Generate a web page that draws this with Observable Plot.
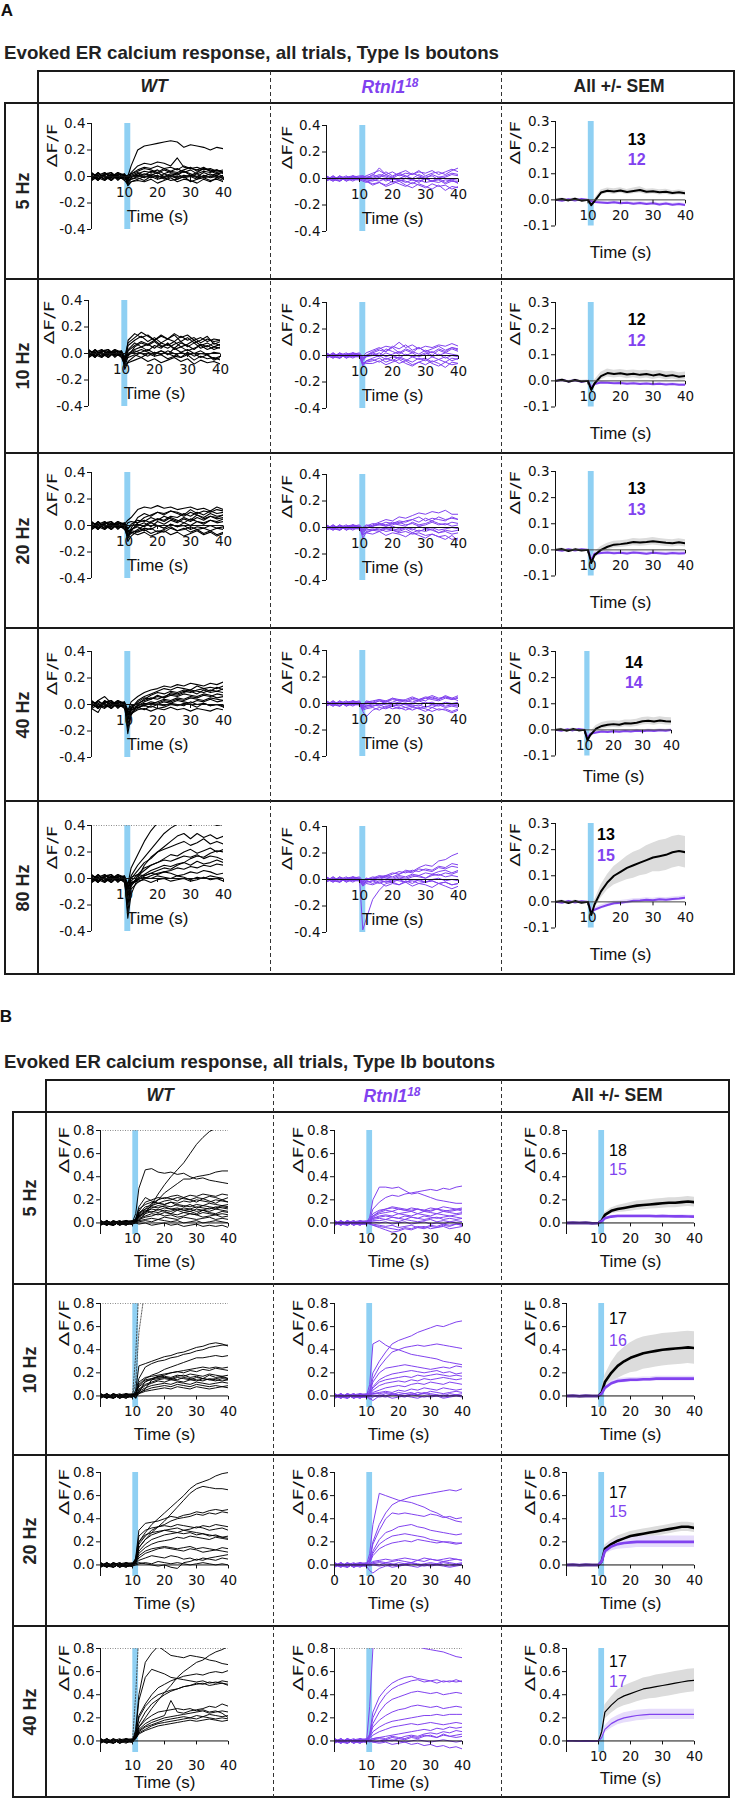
<!DOCTYPE html>
<html><head><meta charset="utf-8">
<script src="https://cdn.jsdelivr.net/npm/d3@7"></script>
<script src="https://cdn.jsdelivr.net/npm/@observablehq/plot@0.6"></script>
<style>
body{margin:0;background:#fff;}
#fig{position:relative;width:735px;height:1798px;overflow:hidden;background:#fff;font-family:"Liberation Sans",Arial,sans-serif;color:#111;}
</style></head><body><div id="fig"></div>
<script>
// ---------- time grid (s) shared by all series ----------
const T = [0,2,4,6,8,10,11,12,14,16,18,20,22,24,26,28,30,32,34,36,38,40];
const STIM = [10.1, 11.9];
const X_TICKS = [10,20,30,40];
const X_TICKS_0 = [0,10,20,30,40];
const A_Y_TICKS = [-0.4,-0.2,0,0.2,0.4];
const A_SEM_Y_TICKS = [-0.1,0,0.1,0.2,0.3];
const B_Y_TICKS = [0,0.2,0.4,0.6,0.8];
const A_FREQ = ["5 Hz","10 Hz","20 Hz","40 Hz","80 Hz"];
const B_FREQ = ["5 Hz","10 Hz","20 Hz","40 Hz"];
const A_N_WT = ["13","12","13","14","13"];
const A_N_RT = ["12","12","13","14","15"];
const B_N_WT = ["18","17","17","17"];
const B_N_RT = ["15","16","15","17"];

// ---------- Type Is individual trials, ΔF/F x 100 ----------
const A5_WT = [
[3,-2,1,-3,2,1,0,8,20,23,24,25,26,27,26,22,24,23,22,20,22,21],
[-2,3,-3,1,-1,-2,-2,3,8,10,9,11,10,8,14,7,6,5,7,4,5,3],
[1,-3,2,3,-2,0,-3,2,5,7,6,8,6,7,5,8,6,7,5,6,4,5],
[-3,1,3,-1,2,-1,-4,-1,2,4,3,5,2,4,6,3,5,2,4,3,5,2],
[2,0,-2,2,-3,2,-5,-2,0,2,1,3,0,2,1,4,2,0,3,1,2,0],
[0,-2,3,-2,1,-3,-6,-4,-2,0,-1,1,-2,0,2,-1,0,-2,1,-1,0,-1],
[-1,3,-1,0,3,1,-2,1,3,1,4,2,5,3,2,4,1,3,6,4,2,3],
[3,-1,-3,2,0,-1,-3,-2,-1,-3,0,-2,-1,-3,-2,0,-4,-2,-1,-3,-2,-4],
[-2,2,0,-3,1,2,-1,0,1,-1,2,0,-1,1,-2,0,1,-1,0,2,-1,1],
[1,-3,2,1,-2,0,1,2,4,6,5,3,6,4,3,5,7,4,6,5,3,4],
[-3,0,1,3,-1,1,-7,-4,-3,-4,-2,-5,-3,-1,-4,-2,-3,-5,-2,-4,-1,-3],
[2,1,-2,-1,3,-2,-2,0,2,0,1,-1,2,0,-1,1,0,2,-1,0,1,-2]];
const A5_RT = [
[2,-1,1,-2,1,0,1,2,4,6,3,5,2,4,3,6,2,4,5,3,6,8],
[-1,2,-2,1,-1,1,-1,-2,-4,-3,-5,-2,-4,-6,-3,-5,-7,-4,-6,-5,-8,-6],
[1,-2,2,0,-2,1,2,1,2,8,3,1,4,2,0,3,1,2,-1,1,3,2],
[-2,1,0,2,-1,-1,-2,-3,-1,-2,0,-3,-1,-2,-4,-1,-3,-2,0,-3,-1,-4],
[1,0,-2,1,2,0,1,0,3,1,5,2,4,6,3,5,4,6,3,5,7,5],
[0,-2,1,-1,2,-1,0,-1,-2,0,-1,1,-2,0,-1,-3,0,-2,-1,-4,-2,-3],
[-1,2,-1,0,1,2,2,1,0,2,1,-1,0,2,-1,1,0,-2,1,0,-1,0],
[2,-1,-2,1,0,-1,-1,-2,-5,-3,-6,-4,-2,-5,-7,-4,-6,-8,-5,-9,-6,-7],
[-2,1,0,-1,2,1,1,0,1,3,2,0,3,1,4,2,0,3,1,2,4,3],
[1,-1,2,-2,0,-1,0,-1,-1,1,-2,0,-1,-3,-1,-2,0,-2,-3,-1,-2,-2]];
const A10_WT = [
[3,-2,1,-3,2,1,-8,10,15,12,14,10,13,11,15,12,14,10,12,9,11,10],
[-2,3,-3,1,-1,-2,-5,6,10,13,9,12,8,11,14,9,12,8,10,13,7,9],
[1,-3,2,3,-2,0,-10,-2,5,8,6,9,5,7,4,8,6,3,7,5,8,6],
[-3,1,3,-1,2,-1,-6,0,3,5,2,6,4,8,3,5,2,4,6,3,5,4],
[2,0,-2,2,-3,2,-12,-6,-2,1,3,0,2,-1,4,1,3,0,2,-1,1,0],
[0,-2,3,-2,1,-3,-9,-7,-5,-3,-6,-4,-7,-5,-3,-6,-4,-8,-5,-7,-6,-8],
[-1,3,-1,0,3,1,-4,-1,2,0,-2,1,-1,2,0,-3,1,-2,0,-1,-4,-2],
[3,-1,-3,2,0,-1,-7,2,6,9,7,4,8,6,9,5,7,10,6,8,5,7],
[-2,2,0,-3,1,2,-3,-1,1,3,1,-1,2,0,-2,1,-1,0,-3,-1,-5,-3],
[1,-3,2,1,-2,0,-5,3,8,5,7,10,6,4,7,9,5,8,4,6,3,5],
[-3,0,1,3,-1,1,-6,-3,-1,-3,0,-2,-1,-4,-2,-3,-1,-5,-2,-4,-3,-5],
[2,1,-2,-1,3,-2,-2,8,12,16,13,10,14,11,9,13,10,12,8,11,9,10]];
const A10_RT = [
[2,-1,1,-2,1,0,-3,0,3,5,7,6,10,6,8,5,7,6,8,7,9,7],
[-1,2,-2,1,-1,1,-6,-5,-4,-2,-5,-3,-6,-4,-7,-5,-3,-6,-8,-5,-7,-6],
[1,-2,2,0,-2,1,-2,0,2,4,3,6,2,5,3,1,4,2,5,3,6,4],
[-2,1,0,2,-1,-1,-8,-4,-2,0,-3,-1,-2,-4,-1,-3,-2,-5,-3,-1,-4,-2],
[1,0,-2,1,2,0,-4,-1,0,2,-1,1,3,0,2,-1,1,3,0,2,1,0],
[0,-2,1,-1,2,-1,-5,-6,-6,-4,-7,-5,-3,-6,-8,-5,-7,-4,-6,-9,-5,-6],
[-1,2,-1,0,1,2,-1,2,4,6,3,7,5,8,4,6,3,5,7,4,6,5],
[2,-1,-2,1,0,-1,-3,-1,1,-1,2,0,-2,1,-1,0,2,-1,1,-2,0,-1],
[-2,1,0,-1,2,1,-7,-4,-3,-5,-2,-4,-1,-3,-5,-2,-4,-1,-3,-5,-2,-3],
[1,-1,2,-2,0,-1,-2,0,2,0,5,3,1,4,2,6,3,0,4,2,5,3]];
const A20_WT = [
[3,-2,1,-3,2,1,4,6,12,14,13,15,13,14,12,13,14,12,13,11,14,12],
[-2,3,-3,1,-1,-2,-10,-4,2,6,8,10,9,11,10,8,12,9,11,10,12,11],
[1,-3,2,3,-2,0,-8,-6,-3,0,3,5,4,7,6,9,7,10,8,11,9,10],
[-3,1,3,-1,2,-1,-5,-3,0,2,-1,3,1,4,2,5,3,6,4,7,5,6],
[2,0,-2,2,-3,2,-12,-8,-4,-2,-3,0,-2,1,-1,2,0,3,1,4,2,3],
[0,-2,3,-2,1,-3,-6,-4,-5,-3,-6,-4,-5,-2,-4,-3,-1,-3,-2,0,-2,-1],
[-1,3,-1,0,3,1,-3,1,4,3,6,4,7,5,3,6,4,8,5,7,6,8],
[3,-1,-3,2,0,-1,-7,-5,-7,-5,-8,-6,-4,-7,-5,-8,-6,-4,-7,-5,-8,-6],
[-2,2,0,-3,1,2,-2,0,1,-1,2,0,-2,1,-1,0,-3,-1,-2,-4,-2,-3],
[1,-3,2,1,-2,0,-9,-2,6,9,7,10,8,11,9,7,10,8,6,9,7,8],
[-3,0,1,3,-1,1,-4,-3,-1,-4,-2,-5,-3,-1,-4,-2,-5,-3,-6,-4,-7,-5],
[2,1,-2,-1,3,-2,2,3,2,4,2,5,3,6,4,2,5,3,2,4,3,5]];
const A20_RT = [
[2,-1,1,-2,1,0,-3,-1,2,4,6,5,8,7,9,11,10,12,11,13,10,10],
[-1,2,-2,1,-1,1,-6,-3,-2,-1,-3,-2,-4,-3,-5,-4,-6,-5,-7,-6,-9,-8],
[1,-2,2,0,-2,1,-2,0,1,3,2,4,3,5,6,4,7,5,8,6,7,6],
[-2,1,0,2,-1,-1,-4,-2,-1,-2,0,-1,-2,0,-1,-3,-1,-2,-4,-2,-3,-2],
[1,0,-2,1,2,0,-2,0,1,2,1,3,2,1,4,2,3,5,3,2,4,3],
[0,-2,1,-1,2,-1,-5,-4,-5,-3,-6,-4,-5,-7,-4,-6,-8,-5,-7,-9,-6,-10],
[-1,2,-1,0,1,2,-1,1,3,2,4,3,5,4,6,8,5,7,6,5,8,6],
[2,-1,-2,1,0,-1,-3,-1,-2,0,-1,1,-1,0,-2,1,-1,0,-2,-1,0,-1],
[-2,1,0,-1,2,1,-8,-4,-2,-3,-1,-2,-3,-1,-4,-2,-3,-1,-4,-3,-5,-4],
[1,-1,2,-2,0,-1,0,2,1,3,1,2,4,2,3,1,2,4,2,3,1,2]];
const A40_WT = [
[3,-2,1,-3,2,1,-5,2,6,9,11,12,14,13,15,14,16,15,14,16,15,17],
[-2,3,6,1,-1,-2,-10,-3,3,6,8,10,12,11,13,12,11,14,12,13,12,14],
[1,-3,2,3,-2,0,-22,-8,0,4,7,9,8,10,9,11,10,8,11,9,10,9],
[-3,-6,3,-1,2,-1,-12,-5,-1,2,4,6,5,7,6,8,7,6,8,7,5,6],
[2,0,-2,2,-3,2,-15,-6,-3,0,2,1,3,2,4,3,5,4,3,5,4,3],
[0,-2,3,-2,1,-3,-8,-4,-2,-4,-1,-3,-2,0,-1,1,0,-2,1,-1,0,-2],
[-1,3,-1,0,3,1,-6,-2,1,3,5,4,6,8,7,9,11,10,9,11,10,12],
[3,-1,-3,2,0,-1,-18,-7,-4,-3,-5,-3,-4,-2,-4,-3,-5,-3,-4,-5,-3,-4],
[-2,2,0,-3,1,2,-4,-1,0,-1,1,0,2,1,3,2,1,3,2,4,2,3],
[1,-3,2,1,-2,0,-11,-3,2,5,4,7,5,9,8,10,9,11,12,10,13,11],
[-3,0,1,3,-1,1,-7,-4,-2,-1,-2,0,-1,1,0,-1,2,0,1,-1,0,-1],
[2,1,-2,-1,3,-2,-9,-3,-1,1,0,2,4,3,5,4,6,5,7,6,8,7]];
const A40_RT = [
[2,-1,1,-2,1,0,-2,1,2,3,1,4,2,3,5,3,4,6,4,5,3,5],
[-1,2,-2,1,-1,1,-6,-10,-5,-3,-4,-2,-4,-3,-5,-3,-4,-6,-4,-5,-7,-5],
[1,-2,2,0,-2,1,-3,-2,0,2,1,3,2,1,3,2,4,3,2,4,3,4],
[-2,1,0,2,-1,-1,-4,-3,-2,-1,-3,-2,-1,-3,-2,-4,-2,-3,-1,-3,-2,-3],
[1,0,-2,1,2,0,-1,1,0,2,0,1,3,2,1,3,2,5,3,6,4,6],
[0,-2,1,-1,2,-1,-5,-4,-3,-5,-2,-4,-3,-5,-3,-4,-6,-3,-5,-4,-6,-4],
[-1,2,-1,0,1,2,-2,0,1,-1,2,0,1,-1,0,2,0,1,-1,1,0,1],
[2,-1,-2,1,0,-1,-3,-2,-1,-2,0,-1,-2,0,-1,-2,1,-1,0,-2,-1,-1],
[-2,1,0,-1,2,1,-2,2,1,3,2,4,3,2,4,3,5,4,3,5,4,2],
[1,-1,2,-2,0,-1,-3,-1,-2,0,-1,-2,0,-1,-2,-1,-3,-1,-2,0,-1,-2]];
const A80_WT = [
[3,-2,1,-3,2,1,-5,8,18,28,36,42,45,44,46,45,47,44,46,45,44,46],
[-2,3,-3,1,-1,-2,-8,2,10,16,22,28,34,38,41,42,40,43,41,42,40,41],
[1,-3,2,3,-2,0,-30,-12,0,10,16,20,24,28,32,34,30,34,31,33,30,32],
[-3,1,3,-1,2,-1,-10,0,6,12,15,20,22,24,26,28,25,27,30,26,28,26],
[2,0,-2,2,-3,2,-20,-6,2,6,10,12,15,18,17,20,22,19,21,23,20,22],
[0,-2,3,-2,1,-3,-6,-2,3,8,10,12,14,13,15,17,16,18,15,17,16,14],
[-1,3,-1,0,3,1,-14,-4,0,3,6,8,10,9,11,12,10,13,11,12,14,12],
[3,-1,-3,2,0,-1,-25,-8,-3,0,2,4,5,6,8,7,9,8,10,9,11,10],
[-2,2,0,-3,1,2,-4,1,3,2,4,3,5,4,2,3,5,4,6,5,3,4],
[1,-3,2,1,-2,0,-12,-3,-1,1,0,2,1,0,2,1,-1,1,0,2,1,0],
[-3,0,1,3,-1,1,-7,-3,-2,-1,-3,-1,0,-2,-1,0,-2,-1,1,-1,0,-2],
[2,1,-2,-1,3,-2,-18,-5,-1,2,4,6,8,7,10,12,15,17,16,19,21,20]];
const A80_RT = [
[2,-1,1,-2,1,0,-2,1,0,2,3,5,4,7,6,9,11,10,14,15,18,20],
[-1,2,-2,1,-1,1,-38,-30,-15,-8,-3,-2,-4,-1,-3,0,-2,-1,-3,-2,-4,-3],
[1,-2,2,0,-2,1,-3,-1,1,3,2,4,6,5,7,6,8,7,10,9,12,11],
[-2,1,0,2,-1,-1,-4,-2,-1,0,-2,-1,1,0,2,3,1,4,3,5,4,6],
[1,0,-2,1,2,0,-2,0,2,1,3,2,4,6,5,8,7,6,9,8,10,9],
[0,-2,1,-1,2,-1,-5,-3,-4,-2,-5,-3,-4,-2,-5,-3,-4,-6,-3,-5,-7,-5],
[-1,2,-1,0,1,2,-1,1,0,2,1,0,2,1,3,2,1,3,4,2,3,2],
[2,-1,-2,1,0,-1,-3,-2,-1,-3,-1,-2,0,-2,-1,-3,-2,-1,-3,-2,-4,-3],
[-2,1,0,-1,2,1,-2,0,1,0,2,1,3,2,4,3,5,4,6,7,5,7],
[1,-1,2,-2,0,-1,-4,-1,-3,-1,-2,0,-1,-2,0,-1,-2,0,1,-1,0,-1]];

// ---------- Type Is means and SEM, ΔF/F x 100 ----------
const A5_WT_M = [0,0.3,-0.2,0.4,-0.3,0,-2,-0.5,2.8,3.5,3.2,3.6,3,3.4,3.8,3.1,3.3,2.9,3.1,2.6,2.9,2.5];
const A5_WT_S = [0.4,0.4,0.4,0.4,0.4,0.4,0.6,0.8,1,1,1.1,1,1,1.1,1.2,1,1,1,1,0.9,0.9,0.9];
const A5_RT_M = [0,-0.3,0.2,-0.2,0.3,0,-0.5,-0.8,-1,-1.2,-0.9,-1.3,-1.1,-1.5,-1.2,-1.6,-1.3,-1.8,-1.4,-1.9,-1.6,-2];
const A5_RT_S = [0.3,0.3,0.3,0.3,0.3,0.3,0.4,0.5,0.6,0.6,0.6,0.6,0.6,0.6,0.6,0.6,0.6,0.6,0.6,0.6,0.6,0.6];
const A10_WT_M = [0,0.4,-0.3,0.3,-0.2,0,-3.5,-1,1.8,3,2.6,2.9,2.4,2.7,2.3,2.6,2.1,2.5,1.9,2.2,1.6,1.9];
const A10_WT_S = [0.4,0.4,0.4,0.4,0.4,0.4,1,1.2,1.5,1.5,1.5,1.5,1.6,1.5,1.6,1.5,1.6,1.5,1.6,1.5,1.5,1.5];
const A10_RT_M = [0,0.3,-0.2,0.2,-0.3,0,-2.5,-1.2,-0.6,-0.7,-0.9,-0.8,-1.1,-0.9,-1.2,-1,-1.3,-1.1,-1.4,-1.2,-1.5,-1.5];
const A10_RT_S = [0.3,0.3,0.3,0.3,0.3,0.3,0.5,0.5,0.5,0.5,0.5,0.5,0.5,0.5,0.5,0.5,0.5,0.5,0.5,0.5,0.5,0.5];
const A20_WT_M = [0,0.3,-0.4,0.2,-0.2,0,-5,-2,0,1.2,2,2.2,2.5,3,2.8,3,3.3,3,2.7,2.5,2.9,2.5];
const A20_WT_S = [0.4,0.4,0.4,0.4,0.4,0.4,1.2,1.2,1.3,1.3,1.3,1.3,1.3,1.4,1.4,1.4,1.4,1.4,1.4,1.4,1.4,1.4];
const A20_RT_M = [0,-0.3,0.2,-0.2,0.2,0,-4,-1.5,-1.2,-1,-1.3,-1.1,-1.4,-1,-1.2,-1.5,-1.1,-1.3,-1.5,-1.2,-1.4,-1.3];
const A20_RT_S = [0.3,0.3,0.3,0.3,0.3,0.3,0.7,0.7,0.7,0.7,0.7,0.7,0.7,0.7,0.7,0.7,0.7,0.7,0.7,0.7,0.7,0.7];
const A40_WT_M = [0,0.2,-0.3,0.3,-0.2,0,-4,-2,0.5,1.5,2,2.2,2,2.5,2.4,2.7,3.3,3.5,3.2,3.6,3.3,3.2];
const A40_WT_S = [0.4,0.4,0.4,0.4,0.4,0.4,1,1.2,1.2,1.3,1.3,1.3,1.3,1.3,1.4,1.4,1.4,1.4,1.4,1.4,1.4,1.4];
const A40_RT_M = [0,-0.3,0.2,-0.2,0.3,0,-3,-1.5,-1,-0.6,-0.8,-0.5,-0.7,-0.4,-0.6,-0.3,-0.5,-0.2,-0.4,-0.1,-0.3,0];
const A40_RT_S = [0.3,0.3,0.3,0.3,0.3,0.3,0.5,0.5,0.5,0.5,0.5,0.5,0.5,0.5,0.5,0.5,0.5,0.5,0.5,0.5,0.5,0.5];
const A80_WT_M = [0,0.3,-0.4,0.3,-0.3,0,-5,-1,4,7.5,10,11.5,13,14,15,16,17,17.5,18,19,19.5,19];
const A80_WT_S = [0.4,0.4,0.4,0.4,0.4,0.4,1,1.5,2.5,3,3.5,4,4.5,5,5,5.5,5.5,6,6,6,6,6];
const A80_RT_M = [0,-0.3,0.3,-0.2,0.2,0,-4,-3,-2,-1.2,-0.5,-0.3,0,0.4,0.5,0.8,0.6,1,0.8,1.1,1.3,1.6];
const A80_RT_S = [0.3,0.3,0.3,0.3,0.3,0.3,0.8,0.8,0.8,0.8,0.8,0.8,0.8,0.8,0.8,0.8,0.8,0.8,0.8,0.8,0.8,0.8];

// ---------- Type Ib individual trials, ΔF/F x 100 ----------
const B5_WT = [
[2,-1,1,-2,1,0,1,2,8,16,25,33,40,46,52,60,68,74,79,82,85,88],
[-1,2,-2,1,-1,1,8,30,46,47,44,43,44,42,43,40,38,39,37,36,35,34],
[1,-2,2,0,-2,1,2,5,10,15,20,26,30,34,38,38,40,41,42,44,45,45],
[-2,1,0,2,-1,-1,3,10,18,20,22,21,23,24,22,24,23,25,24,23,25,24],
[1,0,-2,1,2,0,4,12,16,18,17,19,20,22,21,20,22,21,23,22,20,22],
[0,-2,1,-1,2,-1,2,8,14,15,17,16,18,17,19,18,20,19,18,20,19,18],
[-1,2,-1,0,1,2,3,9,12,14,13,15,14,16,15,14,16,15,17,16,15,16],
[2,-1,-2,1,0,-1,2,6,10,12,11,13,12,11,13,12,14,13,12,14,13,12],
[-2,1,0,-1,2,1,1,5,8,10,9,11,10,12,11,10,12,11,10,12,11,10],
[1,-1,2,-2,0,-1,2,7,11,9,12,10,8,11,9,10,8,11,9,8,10,9],
[2,-1,1,-2,1,0,1,4,6,8,7,9,8,7,9,8,7,9,8,7,8,7],
[-1,2,-2,1,-1,1,1,3,5,6,8,6,7,5,6,8,7,5,6,7,5,6],
[1,-2,2,0,-2,1,2,6,9,13,15,14,12,13,11,12,10,11,13,12,14,13],
[-2,1,0,2,-1,-1,1,2,3,4,3,5,4,3,5,4,3,4,5,3,4,3],
[1,0,-2,1,2,0,0,1,2,1,3,2,1,2,0,1,2,0,1,2,1,0],
[0,-2,1,-1,2,-1,0,-1,0,-2,-1,0,-2,-1,-3,-2,-1,-3,-2,-3,-2,-4],
[-1,2,-1,0,1,2,3,14,22,19,17,16,18,15,14,16,13,15,14,13,15,14],
[2,-1,-2,1,0,-1,2,8,12,17,20,22,21,19,22,20,18,21,19,17,20,18]];
const B5_RT = [
[2,-1,1,-2,1,0,5,20,31,31,30,31,28,25,26,24,22,20,19,18,17,17],
[-1,2,-2,1,-1,1,3,12,18,22,24,23,25,26,27,28,29,28,30,29,31,32],
[1,-2,2,0,-2,1,2,8,11,12,13,12,11,13,12,11,13,12,14,13,12,13],
[-2,1,0,2,-1,-1,2,6,9,11,10,12,11,10,12,11,10,12,11,10,11,12],
[1,0,-2,1,2,0,1,5,8,9,10,8,9,10,8,10,9,8,10,9,8,9],
[0,-2,1,-1,2,-1,1,4,6,7,6,8,7,6,8,7,6,8,7,6,7,8],
[-1,2,-1,0,1,2,2,4,5,6,5,4,6,5,4,6,5,4,5,6,5,4],
[2,-1,-2,1,0,-1,1,3,4,3,5,4,3,5,4,3,4,5,3,4,3,4],
[-2,1,0,-1,2,1,0,2,2,3,2,1,3,2,1,2,3,1,2,1,2,1],
[1,-1,2,-2,0,-1,0,1,0,1,-1,0,1,-1,0,1,-1,0,-1,1,0,-1],
[2,-1,1,-2,1,0,-1,-2,-3,-4,-5,-6,-4,-5,-3,-4,-2,-3,-1,-2,-1,-2],
[-1,2,-2,1,-1,1,-1,-1,-2,-3,-2,-4,-3,-2,-4,-3,-5,-4,-3,-5,-4,-3],
[1,-2,2,0,-2,1,2,6,10,12,14,13,12,11,12,10,11,12,10,11,12,10],
[-2,1,0,2,-1,-1,0,-2,-4,-6,-8,-7,-5,-6,-4,-5,-3,-4,-2,-3,-1,-2]];
const B10_WT_STEEP = [
[0,1,-1,0,1,0,35,95,95,95,95,95,95,95,95,95,95,95,95,95,95,95],
[1,0,-1,1,0,1,12,55,95,95,95,95,95,95,95,95,95,95,95,95,95,95]];
const B10_WT = [
[2,-1,1,-2,1,0,5,26,28,30,32,34,35,37,38,40,42,43,45,46,45,43],
[-1,2,-2,1,-1,1,3,15,25,28,30,31,33,34,36,37,39,40,42,43,44,44],
[1,-2,2,0,-2,1,2,10,15,18,20,23,25,27,29,31,33,33,34,35,34,35],
[-2,1,0,2,-1,-1,2,8,12,15,17,18,20,21,22,23,24,25,24,25,24,25],
[1,0,-2,1,2,0,1,12,16,17,18,19,20,21,20,22,21,23,22,24,23,22],
[0,-2,1,-1,2,-1,2,9,14,15,16,17,16,18,17,19,18,17,19,18,17,18],
[-1,2,-1,0,1,2,-2,6,10,12,14,15,14,16,15,14,16,15,14,15,16,15],
[2,-1,-2,1,0,-1,1,5,9,11,13,12,14,13,12,14,13,15,14,13,15,14],
[-2,1,0,-1,2,1,-2,4,7,9,10,11,10,12,11,10,12,11,10,11,12,11],
[1,-1,2,-2,0,-1,1,3,5,7,8,9,8,10,9,8,10,9,8,9,8,9],
[2,-1,1,-2,1,0,-1,2,4,5,6,7,6,8,7,6,8,7,6,7,8,7],
[-1,2,-2,1,-1,1,1,3,13,14,15,16,15,14,16,15,14,13,15,14,13,14],
[1,-2,2,0,-2,1,0,2,6,14,17,16,15,17,18,16,17,15,18,16,17,15]];
const B10_RT = [
[2,-1,1,-2,1,0,10,45,48,44,41,40,38,36,35,34,33,32,30,29,28,27],
[-1,2,-2,1,-1,1,5,20,30,38,45,48,50,52,55,57,59,61,60,62,64,65],
[1,-2,2,0,-2,1,3,15,25,32,38,40,42,43,44,43,44,45,44,43,42,41],
[-2,1,0,2,-1,-1,3,12,20,24,25,26,27,26,25,24,23,24,25,24,26,25],
[1,0,-2,1,2,0,2,8,14,17,19,20,21,22,21,20,21,22,20,21,19,20],
[0,-2,1,-1,2,-1,2,7,12,14,15,16,17,16,18,17,18,19,18,17,18,17],
[-1,2,-1,0,1,2,1,5,9,11,12,13,12,14,13,15,14,15,16,15,14,15],
[2,-1,-2,1,0,-1,1,3,5,7,8,9,8,10,11,10,12,11,10,12,11,10],
[-2,1,0,-1,2,1,0,2,3,4,3,5,4,6,5,7,6,5,7,6,5,6],
[1,-1,2,-2,0,-1,-2,-4,0,2,1,3,2,1,3,2,4,3,2,3,4,3],
[2,-1,1,-2,1,0,0,1,0,-1,1,0,-1,1,0,-1,0,1,-1,0,1,0],
[-1,2,-2,1,-1,1,-1,0,-1,0,-2,-1,0,-1,-2,0,-1,0,-2,-1,0,-1],
[1,-2,2,0,-2,1,-3,-1,1,0,2,1,0,2,1,3,2,1,0,2,1,2],
[-2,1,0,2,-1,-1,1,2,2,3,2,1,2,3,1,2,1,0,1,0,1,0]];
const B20_WT = [
[2,-1,1,-2,1,0,5,20,28,35,40,45,50,55,60,66,70,72,74,77,79,80],
[-1,2,-2,1,-1,1,4,15,22,28,33,38,44,50,56,62,66,68,67,66,66,65],
[1,-2,2,0,-2,1,6,30,36,37,38,40,42,41,43,44,46,45,47,48,47,48],
[-2,1,0,2,-1,-1,3,18,25,30,33,35,38,40,41,42,44,43,45,44,46,45],
[1,0,-2,1,2,0,5,25,30,32,33,34,33,35,34,33,32,34,33,35,34,33],
[0,-2,1,-1,2,-1,3,15,22,26,28,30,31,32,30,31,33,32,30,31,32,30],
[-1,2,-1,0,1,2,4,20,26,28,29,30,29,28,27,28,26,27,25,26,24,25],
[2,-1,-2,1,0,-1,2,12,18,22,24,26,27,28,30,29,28,27,26,25,24,23],
[-2,1,0,-1,2,1,3,10,15,18,20,21,22,24,23,25,24,23,22,24,23,22],
[1,-1,2,-2,0,-1,2,8,12,14,15,16,15,14,15,16,14,15,14,13,15,14],
[2,-1,1,-2,1,0,2,6,10,12,14,15,14,13,12,14,13,11,12,13,12,11],
[-1,2,-2,1,-1,1,1,4,6,8,7,6,8,7,5,6,4,6,5,4,6,5],
[1,-2,2,0,-2,1,1,2,1,0,-1,0,-2,-3,2,3,5,4,6,7,8,9],
[-2,1,0,2,-1,-1,0,1,2,1,3,2,1,2,1,0,1,2,1,0,1,0]];
const B20_RT = [
[2,-1,1,-2,1,0,10,35,62,60,58,56,55,54,52,50,47,45,42,40,38,37],
[-1,2,-2,1,-1,1,5,20,35,45,52,55,57,59,60,61,62,63,64,65,64,66],
[1,-2,2,0,-2,1,4,18,30,40,45,44,45,44,43,42,44,43,41,42,40,41],
[-2,1,0,2,-1,-1,3,12,22,28,30,33,34,35,33,32,30,29,28,27,26,27],
[1,0,-2,1,2,0,2,10,18,22,25,26,27,26,25,24,22,21,20,20,19,19],
[0,-2,1,-1,2,-1,2,8,14,17,19,20,21,20,22,21,20,19,20,19,18,19],
[-1,2,-1,0,1,2,1,3,4,5,4,5,6,5,4,6,5,4,5,6,5,4],
[2,-1,-2,1,0,-1,1,2,3,2,3,4,3,2,4,3,5,4,3,4,5,4],
[-2,1,0,-1,2,1,0,1,2,1,0,2,1,2,0,1,2,1,3,2,1,2],
[1,-1,2,-2,0,-1,-5,-7,-3,-1,0,-1,0,1,0,-1,0,1,0,-1,0,1],
[2,-1,1,-2,1,0,-1,0,-1,0,-2,-1,0,-1,-2,0,-1,0,-1,-2,-1,0],
[-1,2,-2,1,-1,1,0,1,0,2,1,0,1,2,1,0,1,0,2,1,0,1]];
const B40_WT_STEEP = [
[0,1,-1,0,1,0,40,95,95,95,95,95,95,95,95,95,95,95,95,95,95,95]];
const B40_WT = [
[2,-1,1,-2,1,0,10,40,68,76,82,78,74,73,72,74,73,72,70,69,67,66],
[-1,2,-2,1,-1,1,4,12,20,28,35,42,48,55,60,64,68,70,74,77,79,82],
[1,-2,2,0,-2,1,6,22,32,40,46,49,52,54,56,57,58,57,59,60,59,61],
[-2,1,0,2,-1,-1,8,35,55,62,60,58,55,54,53,52,51,52,50,51,50,49],
[1,0,-2,1,2,0,4,15,25,32,36,40,43,45,47,48,50,49,51,50,52,51],
[0,-2,1,-1,2,-1,5,20,30,36,40,42,44,45,47,48,49,50,48,49,50,48],
[-1,2,-1,0,1,2,3,10,15,18,20,22,35,25,24,26,27,28,30,29,32,30],
[2,-1,-2,1,0,-1,3,9,13,16,18,20,21,22,23,24,25,26,24,25,26,25],
[-2,1,0,-1,2,1,2,8,12,14,16,18,19,20,21,20,22,21,23,22,21,22],
[1,-1,2,-2,0,-1,2,7,10,13,15,16,17,18,19,20,19,21,20,19,20,19],
[2,-1,1,-2,1,0,2,6,9,11,13,14,15,16,17,18,17,18,19,18,17,18],
[-1,2,-2,1,-1,1,3,12,18,22,25,26,27,28,27,28,26,27,25,26,24,20]];
const B40_RT = [
[2,-1,1,-2,1,0,30,80,95,95,95,95,95,95,82,80,79,78,77,75,73,72],
[-1,2,-2,1,-1,1,6,25,38,45,50,53,55,56,54,53,52,53,51,52,51,52],
[1,-2,2,0,-2,1,5,20,32,40,45,48,50,52,53,51,52,50,52,51,53,51],
[-2,1,0,2,-1,-1,4,15,25,32,36,38,40,42,43,42,41,42,40,41,42,41],
[1,0,-2,1,2,0,4,12,18,22,25,27,28,30,31,30,29,30,28,29,30,29],
[0,-2,1,-1,2,-1,3,8,12,15,17,18,19,20,21,22,22,23,22,23,23,23],
[-1,2,-1,0,1,2,2,5,8,10,12,13,14,15,14,15,16,15,14,15,16,15],
[2,-1,-2,1,0,-1,1,2,3,4,5,6,7,8,9,10,9,11,10,12,11,12],
[-2,1,0,-1,2,1,0,1,2,1,3,2,4,5,4,6,7,6,8,7,9,8],
[1,-1,2,-2,0,-1,0,-1,0,1,0,2,1,3,2,4,5,3,6,4,5,6],
[2,-1,1,-2,1,0,-1,0,-1,0,1,0,-1,0,1,0,-1,0,1,0,-1,0],
[-1,2,-2,1,-1,1,0,-1,-2,-1,-3,-2,-1,-3,-2,-4,-3,-5,-4,-6,-5,-7],
[1,-2,2,0,-2,1,1,2,3,2,4,3,2,4,3,5,4,3,5,4,3,4]];

// ---------- Type Ib means and SEM, ΔF/F x 100 ----------
const B5_WT_M = [0,0.2,-0.1,0.2,-0.2,0,2,7,10.5,12,13,14,15,15.5,16,16.5,17,17.5,17.5,18,18.5,18];
const B5_WT_S = [0.3,0.3,0.3,0.3,0.3,0.3,1,2,2.5,3,3.5,3.8,4,4,4,4.2,4.2,4.3,4.3,4.3,4.3,4.3];
const B5_RT_M = [0,0.2,-0.1,0.1,-0.2,0,1.5,4,5.5,6,6,6,6,6,6,5.8,6,5.8,5.7,5.8,5.6,5.5];
const B5_RT_S = [0.3,0.3,0.3,0.3,0.3,0.3,0.6,0.8,1,1,1.2,1.2,1.2,1.2,1.2,1.2,1.2,1.2,1.2,1.2,1.2,1.2];
const B10_WT_M = [0,0.2,-0.2,0.1,-0.1,0,3,12,20,26,30,33,35,37,38,39,40,40.5,41,41.5,42,41.5];
const B10_WT_S = [0.3,0.3,0.3,0.3,0.3,0.3,2,6,9,11,12,13,14,14,14,14,14,14,14,14,14,14];
const B10_RT_M = [0,0.1,-0.1,0.2,-0.1,0,2,7,11,13,13.5,14,14,14.5,14.5,15,15,15,15,15,15,15];
const B10_RT_S = [0.3,0.3,0.3,0.3,0.3,0.3,1,1.5,2,2,2,2,2,2,2,2,2,2,2,2,2,2];
const B20_WT_M = [0,0.2,-0.2,0.1,-0.1,0,3,14,18,21,23,25,26,27,28,29,30,31,32,33,33,32];
const B20_WT_S = [0.3,0.3,0.3,0.3,0.3,0.3,1,3,3.5,4,4,4,4,4,4,4,4,4,4,4,4,4];
const B20_RT_M = [0,0.1,-0.1,0.2,-0.1,0,3,12,16,18,19,19.5,20,20,20,20,20,20,20,20,20,20];
const B20_RT_S = [0.3,0.3,0.3,0.3,0.3,0.3,1,3,4,4.5,5,5,5,5,5,5,5,5,5,5,5,5];
const B40_WT_M = [0,0.1,-0.1,0.1,-0.1,0,8,25,31,36,39,41,43,45,46,47,48,49,50,51,52,52.5];
const B40_WT_S = [0.3,0.3,0.3,0.3,0.3,0.3,2,6,7,8,8.5,9,9,9.5,9.5,10,10,10,10,10,10,10];
const B40_RT_M = [0,0.1,-0.1,0.1,-0.1,0,3,10,15,18,20,21,22,22.5,23,23,23,23,23,23,23,23];
const B40_RT_S = [0.3,0.3,0.3,0.3,0.3,0.3,1,3,4,4,4.5,4.5,4.5,4.5,4.5,4.5,4.5,4.5,4.5,4.5,4.5,4.5];

// ---------- styles ----------
const BLACK = "#000000", PURPLE = "#8142ef", BLUE = "#8fd0f3";
const GRAY_BAND = "#dcdcdc", PURPLE_BAND = "#e6dcfb";
const TICK_DOWN = {draw(ctx) { ctx.moveTo(0, 0); ctx.lineTo(0, 3.5); }};

const fig = document.getElementById("fig");

function rowsOf(list) {
  return list.flatMap((vals, id) => vals.map((v, i) => ({t: T[i], v: v / 100, id})));
}
function bandOf(m, s) {
  return m.map((v, i) => ({t: T[i], v: v / 100, lo: (v - s[i]) / 100, hi: (v + s[i]) / 100}));
}

function panel(o) {
  const mL = 56, mR = 16, mT = 10, mB = 64;
  const marks = [Plot.rect([STIM], {x1: d => d[0], x2: d => d[1], fill: BLUE})];
  if (o.ceiling) marks.push(Plot.ruleY([o.ydom[1]], {stroke: "#8c8c8c", strokeWidth: 1, strokeDasharray: "1,1.5"}));
  for (const b of (o.bands || [])) marks.push(Plot.areaY(b.data, {x: "t", y1: "lo", y2: "hi", fill: b.fill, clip: true}));
  for (const tr of (o.traces || [])) marks.push(Plot.line(rowsOf(tr.data), {x: "t", y: "v", z: "id", stroke: tr.color, strokeWidth: tr.w, strokeDasharray: tr.dash, clip: true}));
  for (const m of (o.means || [])) marks.push(Plot.line(m.data, {x: "t", y: "v", stroke: m.color, strokeWidth: m.w, clip: true}));
  marks.push(Plot.ruleY([0], {stroke: o.zeroColor || "#111", strokeWidth: 1}));
  marks.push(Plot.ruleX([0], {stroke: "#111", strokeWidth: 1}));
  marks.push(Plot.dot(o.xticks, {x: d => d, y: 0, symbol: TICK_DOWN, stroke: "#111", fill: "none", strokeWidth: 1}));
  marks.push(Plot.text(o.xticks, {x: d => d, y: 0, dy: o.xlabDy, text: d => String(d), fontFamily: "DejaVu Sans", fontSize: 13.5, fill: "#111"}));
  marks.push(Plot.text(["Time (s)"], {x: 20, y: 0, dy: o.timeDy, text: d => d, fontFamily: "Liberation Sans", fontSize: 17, fill: "#111"}));
  marks.push(Plot.text(["ΔF/F"], {frameAnchor: "left", dx: o.ylabDx, dy: -9, rotate: -90, text: d => d, fontFamily: "DejaVu Sans", fontSize: 14, fill: "#111"}));
  for (const n of (o.nLabels || [])) marks.push(Plot.text([n.text], {x: n.x, y: n.y, text: d => d, fill: n.color, fontWeight: n.bold ? "bold" : "normal", fontFamily: "Liberation Sans", fontSize: 16, textAnchor: n.anchor}));
  const svg = Plot.plot({
    width: mL + o.plotW + mR, height: mT + o.plotH + mB,
    marginLeft: mL, marginRight: mR, marginTop: mT, marginBottom: mB,
    x: {domain: [0, 40], axis: null},
    y: {domain: o.ydom, ticks: o.yticks, tickSize: 4, tickPadding: 2, tickFormat: d => d.toFixed(1), label: null},
    style: {background: "transparent", overflow: "visible", fontFamily: "DejaVu Sans", fontSize: "13.5px", color: "#111"},
    marks
  });
  svg.querySelectorAll("text").forEach(t => {
    if (t.textContent === "ΔF/F") { t.setAttribute("textLength", o.ylabLen); t.setAttribute("lengthAdjust", "spacingAndGlyphs"); }
  });
  svg.style.position = "absolute";
  svg.style.left = (o.axisX - mL) + "px";
  svg.style.top = (o.yTop - mT) + "px";
  svg.style.zIndex = 1;
  fig.appendChild(svg);
}

// ---------- Panel A (Type Is) ----------
const A_WT = [A5_WT, A10_WT, A20_WT, A40_WT, A80_WT];
const A_RT = [A5_RT, A10_RT, A20_RT, A40_RT, A80_RT];
const A_MEANS = [
  [A5_WT_M, A5_WT_S, A5_RT_M, A5_RT_S], [A10_WT_M, A10_WT_S, A10_RT_M, A10_RT_S],
  [A20_WT_M, A20_WT_S, A20_RT_M, A20_RT_S], [A40_WT_M, A40_WT_S, A40_RT_M, A40_RT_S],
  [A80_WT_M, A80_WT_S, A80_RT_M, A80_RT_S]];
const A_EDGES = [103, 279, 453, 628, 801, 974];
const A_YTOP = [[122.7,125,121],[300,302.3,301.7],[472.3,474,471],[651,650,651],[825,826,822.7]];
const A_AXIS = [[91,326,555],[88,326,555],[91,326,555],[91,326,555],[91,326,555]];
const A_NPOS = [[25,0.23,0.153],[25,0.234,0.154],[25,0.233,0.155],[27,0.258,0.179],[15.5,0.255,0.176]];

for (let r = 0; r < 5; r++) {
  const common = {plotH: 106, ydom: [-0.4, 0.4], yticks: A_Y_TICKS, xticks: X_TICKS, xlabDy: 16, timeDy: 40, ylabDx: -39, ylabLen: 44};
  panel({...common, axisX: A_AXIS[r][0], yTop: A_YTOP[r][0], plotW: 132, ceiling: r === 4, traces: [{data: A_WT[r], color: BLACK, w: 1.1}]});
  panel({...common, axisX: A_AXIS[r][1], yTop: A_YTOP[r][1], plotW: 132, traces: [{data: A_RT[r], color: PURPLE, w: 1.0}]});
  const [wm, ws, rm, rs] = A_MEANS[r];
  const wb = bandOf(wm, ws), rb = bandOf(rm, rs);
  panel({axisX: A_AXIS[r][2], yTop: A_YTOP[r][2], plotW: r === 3 ? 116 : 130, plotH: 104.5, ydom: [-0.1, 0.3], yticks: A_SEM_Y_TICKS,
    xticks: X_TICKS, xlabDy: 16, timeDy: r === 3 ? 47 : 53, ylabDx: -40, ylabLen: 44, zeroColor: "#444",
    bands: [{data: wb, fill: GRAY_BAND}, {data: rb, fill: PURPLE_BAND}],
    means: [{data: rb, color: PURPLE, w: 2}, {data: wb, color: BLACK, w: 2}],
    nLabels: [{text: A_N_WT[r], x: A_NPOS[r][0], y: A_NPOS[r][1], color: BLACK, bold: true, anchor: "middle"},
              {text: A_N_RT[r], x: A_NPOS[r][0], y: A_NPOS[r][2], color: PURPLE, bold: true, anchor: "middle"}]});
}

// ---------- Panel B (Type Ib) ----------
const B_WT = [B5_WT, B10_WT, B20_WT, B40_WT];
const B_WT_STEEP = [[], B10_WT_STEEP, [], B40_WT_STEEP];
const B_RT = [B5_RT, B10_RT, B20_RT, B40_RT];
const B_MEANS = [
  [B5_WT_M, B5_WT_S, B5_RT_M, B5_RT_S], [B10_WT_M, B10_WT_S, B10_RT_M, B10_RT_S],
  [B20_WT_M, B20_WT_S, B20_RT_M, B20_RT_S], [B40_WT_M, B40_WT_S, B40_RT_M, B40_RT_S]];
const B_EDGES = [1112, 1284, 1455, 1626, 1797];
const B_YTOP = [1130, 1303, 1471.7, 1647.7];
const B_AXIS = [100, 334, 566];
const B_NPOS = [[0.627,0.455],[0.668,0.48],[0.627,0.455],[0.68,0.507]];

for (let r = 0; r < 4; r++) {
  const common = {plotW: 128, plotH: 104, ydom: [-0.1, 0.8], yticks: B_Y_TICKS, ylabDx: -36, ylabLen: 47, yTop: B_YTOP[r]};
  const lowLab = r === 3;
  panel({...common, axisX: B_AXIS[0], xticks: X_TICKS, xlabDy: lowLab ? 25 : 15.5, timeDy: lowLab ? 41.5 : 39, ceiling: r !== 2,
    traces: [{data: B_WT_STEEP[r], color: "#333", w: 0.8, dash: "1.5,1.5"}, {data: B_WT[r], color: BLACK, w: 0.95}]});
  panel({...common, axisX: B_AXIS[1], xticks: r === 2 ? X_TICKS_0 : X_TICKS, xlabDy: lowLab ? 25 : 15.5, timeDy: lowLab ? 41.5 : 39, ceiling: r === 3,
    traces: [{data: B_RT[r], color: PURPLE, w: 1.0}]});
  const [wm, ws, rm, rs] = B_MEANS[r];
  const wb = bandOf(wm, ws), rb = bandOf(rm, rs);
  const mw = r === 3 ? 1.2 : 2.6;
  panel({...common, axisX: B_AXIS[2], xticks: X_TICKS, xlabDy: 15.5, timeDy: r === 3 ? 38 : 39,
    bands: [{data: wb, fill: GRAY_BAND}, {data: rb, fill: PURPLE_BAND}],
    means: [{data: wb, color: BLACK, w: mw}, {data: rb, color: PURPLE, w: mw}],
    nLabels: [{text: B_N_WT[r], x: 13.3, y: B_NPOS[r][0], color: BLACK, bold: false, anchor: "start"},
              {text: B_N_RT[r], x: 13.3, y: B_NPOS[r][1], color: PURPLE, bold: false, anchor: "start"}]});
}

// ---------- table frame ----------
function box(x, y, w, h, bg) {
  const d = document.createElement("div");
  Object.assign(d.style, {position: "absolute", left: x + "px", top: y + "px", width: w + "px", height: h + "px", background: bg, zIndex: 3});
  fig.appendChild(d);
}
const hl = (x1, x2, y) => box(x1 - 1, y - 1, x2 - x1 + 2, 2, "#1a1a1a");
const vl = (x, y1, y2) => box(x - 1, y1 - 1, 2, y2 - y1 + 2, "#1a1a1a");
const dl = (x, y1, y2) => box(x - 0.5, y1, 1, y2 - y1, "repeating-linear-gradient(to bottom,#333 0 4px,transparent 4px 7px)");

function table(x0, xL, xD1, xD2, xR, yHead, edges) {
  const yEnd = edges[edges.length - 1];
  hl(xL, xR, yHead);
  edges.forEach(y => hl(x0, xR, y));
  vl(x0, edges[0], yEnd);
  vl(xL, yHead, yEnd);
  vl(xR, yHead, yEnd);
  dl(xD1, yHead, yEnd);
  dl(xD2, yHead, yEnd);
}
table(5, 38, 270, 501, 734, 71, A_EDGES);
table(13, 46, 273, 501, 729, 1080, B_EDGES);

// ---------- texts ----------
function addText(html, cx, cy, css, rot) {
  const d = document.createElement("div");
  d.innerHTML = html;
  Object.assign(d.style, {position: "absolute", left: cx + "px", top: cy + "px", whiteSpace: "nowrap", lineHeight: "1",
    transform: "translate(-50%,-50%)" + (rot ? " rotate(-90deg)" : ""), zIndex: 4}, css);
  fig.appendChild(d);
  return d;
}
function addTitle(text, x, cy, targetW) {
  const d = document.createElement("div");
  d.textContent = text;
  Object.assign(d.style, {position: "absolute", left: x + "px", top: cy + "px", whiteSpace: "nowrap", lineHeight: "1",
    fontWeight: "bold", fontSize: "18.5px", color: "#222", zIndex: 4, transformOrigin: "0 50%"});
  fig.appendChild(d);
  const w = d.getBoundingClientRect().width;
  d.style.transform = `translateY(-50%) scaleX(${targetW / w})`;
}
addText("A", 7, 10, {fontWeight: "bold", fontSize: "17px"});
addText("B", 6, 1016, {fontWeight: "bold", fontSize: "17px"});
addTitle("Evoked ER calcium response, all trials, Type Is boutons", 4, 53, 495);
addTitle("Evoked ER calcium response, all trials, Type Ib boutons", 4, 1062, 491);

const HEAD_WT = "<i>WT</i>";
const HEAD_RT = "<i>Rtnl1<sup style='font-size:0.68em;vertical-align:0.55em'>18</sup></i>";
const HEAD_SEM = "All +/- SEM";
const headCss = {fontWeight: "bold", fontSize: "17.5px", color: "#222"};
[[87, [154, 390, 619]], [1096, [160, 392, 617]]].forEach(([cy, xs]) => {
  addText(HEAD_WT, xs[0], cy, headCss);
  addText(HEAD_RT, xs[1], cy, {...headCss, color: PURPLE});
  addText(HEAD_SEM, xs[2], cy, headCss);
});
const rowCss = {fontWeight: "bold", fontSize: "18px", color: "#222"};
A_FREQ.forEach((f, i) => addText(f, 23, (A_EDGES[i] + A_EDGES[i + 1]) / 2, rowCss, true));
B_FREQ.forEach((f, i) => addText(f, 29.5, (B_EDGES[i] + B_EDGES[i + 1]) / 2, rowCss, true));
</script></body></html>
